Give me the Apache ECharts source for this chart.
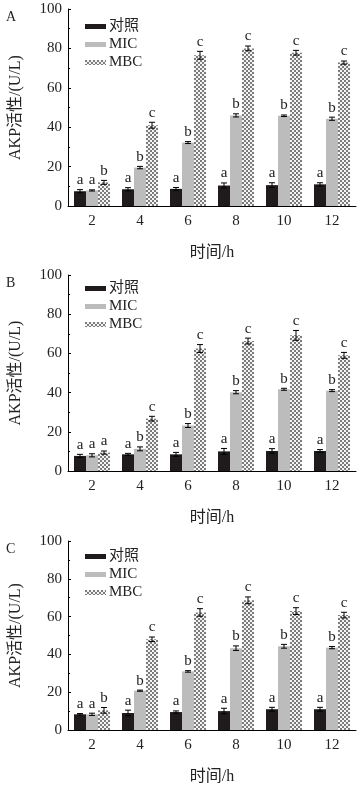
<!DOCTYPE html>
<html><head><meta charset="utf-8">
<script src="https://cdn.jsdelivr.net/npm/echarts@6/dist/echarts.min.js"></script>
<style>html,body{margin:0;padding:0;background:#fff}#c{width:358px;height:786px}</style>
</head><body><div id="c"></div>
<script>
const categories = ['2','4','6','8','10','12'];
const seriesNames = ['对照','MIC','MBC'];
const yTicks = [0,20,40,60,80,100];
const panelLabels = ['A','B','C'];

// Panel A
const A_ctrl = [7.5, 8.5, 8.7, 10.4, 10.6, 11.0];
const A_ctrlErr = [0.8, 0.8, 0.7, 1.3, 1.2, 0.8];
const A_mic = [7.9, 19.5, 32.2, 46.0, 45.8, 44.3];
const A_micErr = [0.3, 0.6, 0.5, 0.8, 0.4, 0.8];
const A_mbc = [12.0, 41.0, 76.5, 80.0, 77.8, 72.8];
const A_mbcErr = [1.0, 1.5, 2.0, 1.2, 1.2, 0.8];
const A_letters = [['a','a','b'],['a','b','c'],['a','b','c'],['a','b','c'],['a','b','c'],['a','b','c']];

// Panel B
const B_ctrl = [7.7, 8.5, 8.5, 10.0, 10.2, 10.2];
const B_ctrlErr = [0.8, 0.5, 1.0, 1.5, 1.2, 0.7];
const B_mic = [8.0, 11.3, 23.2, 40.2, 41.7, 41.0];
const B_micErr = [0.8, 1.0, 1.0, 0.8, 0.5, 0.5];
const B_mbc = [9.4, 26.7, 62.5, 66.3, 69.2, 59.0];
const B_mbcErr = [0.8, 1.2, 2.0, 1.5, 2.5, 1.5];
const B_letters = [['a','a','a'],['a','b','c'],['a','b','c'],['a','b','c'],['a','b','c'],['a','b','c']];

// Panel C
const C_ctrl = [8.3, 9.0, 9.5, 10.0, 11.0, 11.0];
const C_ctrlErr = [0.4, 1.5, 0.6, 1.5, 1.0, 1.0];
const C_mic = [8.3, 20.8, 31.0, 43.3, 44.3, 43.6];
const C_micErr = [0.6, 0.3, 0.4, 1.2, 1.0, 0.6];
const C_mbc = [10.4, 48.0, 62.2, 68.6, 62.9, 60.8];
const C_mbcErr = [1.5, 1.2, 2.0, 1.8, 1.8, 1.5];
const C_letters = [['a','a','b'],['a','b','c'],['a','b','c'],['a','b','c'],['a','b','c'],['a','b','c']];

const panels = [
  {vals:[A_ctrl,A_mic,A_mbc], errs:[A_ctrlErr,A_micErr,A_mbcErr], letters:A_letters},
  {vals:[B_ctrl,B_mic,B_mbc], errs:[B_ctrlErr,B_micErr,B_mbcErr], letters:B_letters},
  {vals:[C_ctrl,C_mic,C_mbc], errs:[C_ctrlErr,C_micErr,C_mbcErr], letters:C_letters}
];

const gridTops = [9, 275, 541];
const gridH = [197, 196, 197];
const legendTops = [14, 276, 544];
const FONT = '"Liberation Serif", "Noto Sans CJK SC", serif';

const pc = document.createElement('canvas');
pc.width = 4; pc.height = 4;
const px = pc.getContext('2d');
px.fillStyle = '#f4f4f4'; px.fillRect(0,0,4,4);
px.fillStyle = '#7c7c7c'; px.fillRect(0,0,2,2); px.fillRect(2,2,2,2);
const colors = ['#1f1b1c', '#bcbcbc', {image: pc, repeat: 'repeat'}];

const grid = [], xAxis = [], yAxis = [], series = [], legend = [], graphic = [];
const CAT_GAP = 0.25;

panels.forEach((p, gi) => {
  grid.push({left: 62, width: 294, top: gridTops[gi], height: gridH[gi]});
  xAxis.push({type: 'category', gridIndex: gi, data: categories,
    axisLine: {lineStyle: {color: '#000', width: 1}}, axisTick: {show: false},
    axisLabel: {color: '#222', fontSize: 15, fontFamily: FONT, margin: 8},
    name: '时间/h', nameLocation: 'middle', nameGap: 39,
    nameTextStyle: {color: '#222', fontSize: 16, fontFamily: FONT}});
  yAxis.push({type: 'value', gridIndex: gi, min: 0, max: 100, interval: 20,
    axisLine: {show: true, lineStyle: {color: '#000', width: 1}},
    axisTick: {show: true, inside: true, length: 3, lineStyle: {color: '#000'}},
    minorTick: {show: true, splitNumber: 2, length: 2, lineStyle: {color: '#000'}},
    splitLine: {show: false},
    axisLabel: {color: '#222', fontSize: 15, fontFamily: FONT, margin: 6},
    name: 'AKP活性/(U/L)', nameLocation: 'middle', nameGap: 44,
    nameTextStyle: {color: '#222', fontSize: 16, fontFamily: FONT}});
  p.vals.forEach((v, si) => {
    series.push({type: 'bar', name: seriesNames[si], xAxisIndex: gi, yAxisIndex: gi,
      data: v, barGap: '0%', barCategoryGap: (CAT_GAP*100)+'%',
      itemStyle: {color: colors[si]}, silent: true});
  });
  p.vals.forEach((v, si) => {
    const data = v.map((val, ci) => [ci, val, p.errs[si][ci], p.letters[ci][si]]);
    series.push({type: 'custom', xAxisIndex: gi, yAxisIndex: gi, silent: true, z: 5,
      data: data, encode: {x: 0, y: 1},
      renderItem: (params, api) => {
        const ci = api.value(0), val = api.value(1), e = api.value(2);
        const letter = p.letters[ci][si];
        const band = api.size([1, 0])[0];
        const bw = band * (1 - CAT_GAP) / 3;
        const off = (si - 1) * bw;
        const top = api.coord([ci, val + e]);
        const bot = api.coord([ci, val - e]);
        const x = top[0] + off;
        const cap = 3;
        const st = {stroke: '#000', lineWidth: 1};
        return {type: 'group', children: [
          {type: 'line', shape: {x1: x, y1: top[1], x2: x, y2: bot[1]}, style: st},
          {type: 'line', shape: {x1: x - cap, y1: top[1], x2: x + cap, y2: top[1]}, style: st},
          {type: 'line', shape: {x1: x - cap, y1: bot[1], x2: x + cap, y2: bot[1]}, style: st},
          {type: 'text', x: x, y: top[1] - 2, style: {text: letter, fill: '#222',
            font: '15px ' + FONT, align: 'center', verticalAlign: 'bottom'}}
        ]};
      }});
  });
  legend.push({orient: 'vertical', left: 80, top: legendTops[gi], itemWidth: 21, itemHeight: 5,
    itemGap: 3, icon: 'rect', data: seriesNames,
    textStyle: {color: '#222', fontSize: 15, fontFamily: FONT, padding: [0,0,0,-2]}});
  graphic.push({type: 'text', left: 6, top: gridTops[gi] + 1,
    style: {text: panelLabels[gi], fill: '#222', font: '14px ' + FONT}});
});

const chart = echarts.init(document.getElementById('c'), null, {renderer: 'canvas'});
chart.setOption({animation: false, grid, xAxis, yAxis, series, legend, graphic});
</script>
</body></html>
